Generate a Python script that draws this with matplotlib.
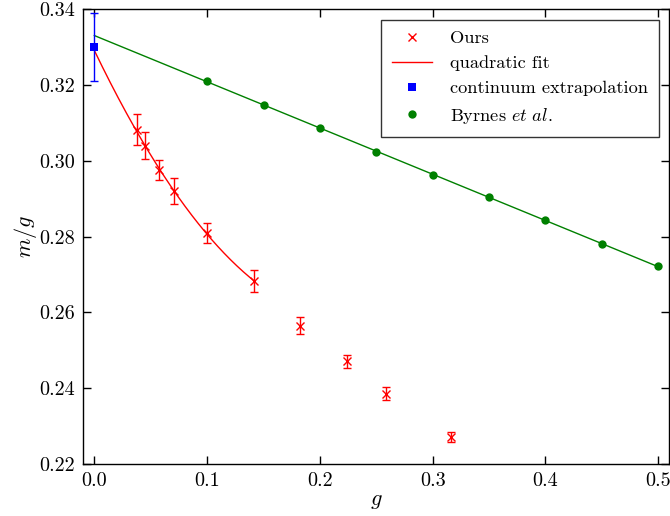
import numpy as np
import matplotlib
matplotlib.use("Agg")
import matplotlib.pyplot as plt

plt.rcParams['font.family'] = ['cmr10', 'DejaVu Serif']
plt.rcParams['mathtext.fontset'] = 'cm'
plt.rcParams['axes.formatter.use_mathtext'] = True
plt.rcParams['axes.unicode_minus'] = False

# our data (g, m/g, error)
g_ours = [0.0378, 0.0447, 0.0577, 0.0707, 0.1000, 0.1414, 0.1826, 0.2236, 0.2582, 0.3162]
m_ours = [0.3083, 0.3040, 0.2976, 0.2920, 0.2809, 0.2683, 0.2565, 0.2471, 0.2386, 0.2271]
e_ours = [0.0041, 0.0036, 0.0027, 0.0034, 0.0026, 0.0030, 0.0023, 0.0018, 0.0017, 0.0013]
n_fit = 6  # points used for the quadratic fit

# continuum extrapolation
g_cont = [0.0]
m_cont = [0.330]
e_cont = [0.009]

# Byrnes et al.
g_byr = [0.10, 0.15, 0.20, 0.25, 0.30, 0.35, 0.40, 0.45, 0.50]
m_byr = [0.3211, 0.3148, 0.3087, 0.3024, 0.2963, 0.2905, 0.2844, 0.2781, 0.2722]

fig = plt.figure(figsize=(6.7, 5.16), dpi=100)
ax = fig.add_axes([0.124, 0.1008, 0.8752, 0.8808])

# fits
gq = np.array(g_ours[:n_fit])
mq = np.array(m_ours[:n_fit])
eq = np.array(e_ours[:n_fit])
cq = np.polyfit(gq, mq, 2, w=1.0 / eq)
xq = np.linspace(0, gq.max(), 200)
cl = np.polyfit(g_byr, m_byr, 1)
xl = np.linspace(0, max(g_byr), 50)

ax.plot(xl, np.polyval(cl, xl), '-', color='#008000', lw=1)
ax.plot(xq, np.polyval(cq, xq), '-', color='#ff0000', lw=1)
ax.errorbar(g_ours, m_ours, yerr=e_ours, fmt='none', ecolor='#ff0000',
            elinewidth=1, capsize=3, capthick=1)
ax.plot(g_ours, m_ours, 'x', color='#ff0000', ms=6, mew=1)
ax.errorbar(g_cont, m_cont, yerr=e_cont, fmt='none', ecolor='#0000ff',
            elinewidth=1, capsize=3, capthick=1)
ax.plot(g_cont, m_cont, 's', color='#0000ff', ms=6, mew=0)
ax.plot(g_byr, m_byr, 'o', color='#008000', ms=6, mew=0)

h1, = ax.plot([], [], 'x', color='#ff0000', ms=6, mew=1)
h2, = ax.plot([], [], '-', color='#ff0000', lw=1)
h3, = ax.plot([], [], 's', color='#0000ff', ms=6, mew=0)
h4, = ax.plot([], [], 'o', color='#008000', ms=6, mew=0)
leg = ax.legend([h1, h2, h3, h4],
                ['Ours', 'quadratic fit', 'continuum extrapolation',
                 r'Byrnes $\mathit{et\ al.}$'],
                loc='upper right', numpoints=1, fancybox=False, fontsize=13.2,
                handlelength=2.2, labelspacing=0.5, borderaxespad=0.55,
                handletextpad=1.0, borderpad=0.6)
leg.get_frame().set_edgecolor('black')
leg.get_frame().set_linewidth(1)

ax.set_xlim(-0.01, 0.51)
ax.set_ylim(0.22, 0.34)
ax.set_xticks([0.0, 0.1, 0.2, 0.3, 0.4, 0.5])
ax.set_yticks([0.22, 0.24, 0.26, 0.28, 0.30, 0.32, 0.34])
ax.set_xticklabels(['0.0', '0.1', '0.2', '0.3', '0.4', '0.5'])
ax.set_yticklabels(['0.22', '0.24', '0.26', '0.28', '0.30', '0.32', '0.34'])
ax.tick_params(direction='in', top=True, right=True, length=6, width=1,
               labelsize=14.5, pad=6)
for s in ax.spines.values():
    s.set_linewidth(1)
ax.set_xlabel(r'$g$', fontsize=16, labelpad=1)
ax.set_ylabel(r'$m/g$', fontsize=16, labelpad=0)

fig.savefig('out.png', dpi=100)
